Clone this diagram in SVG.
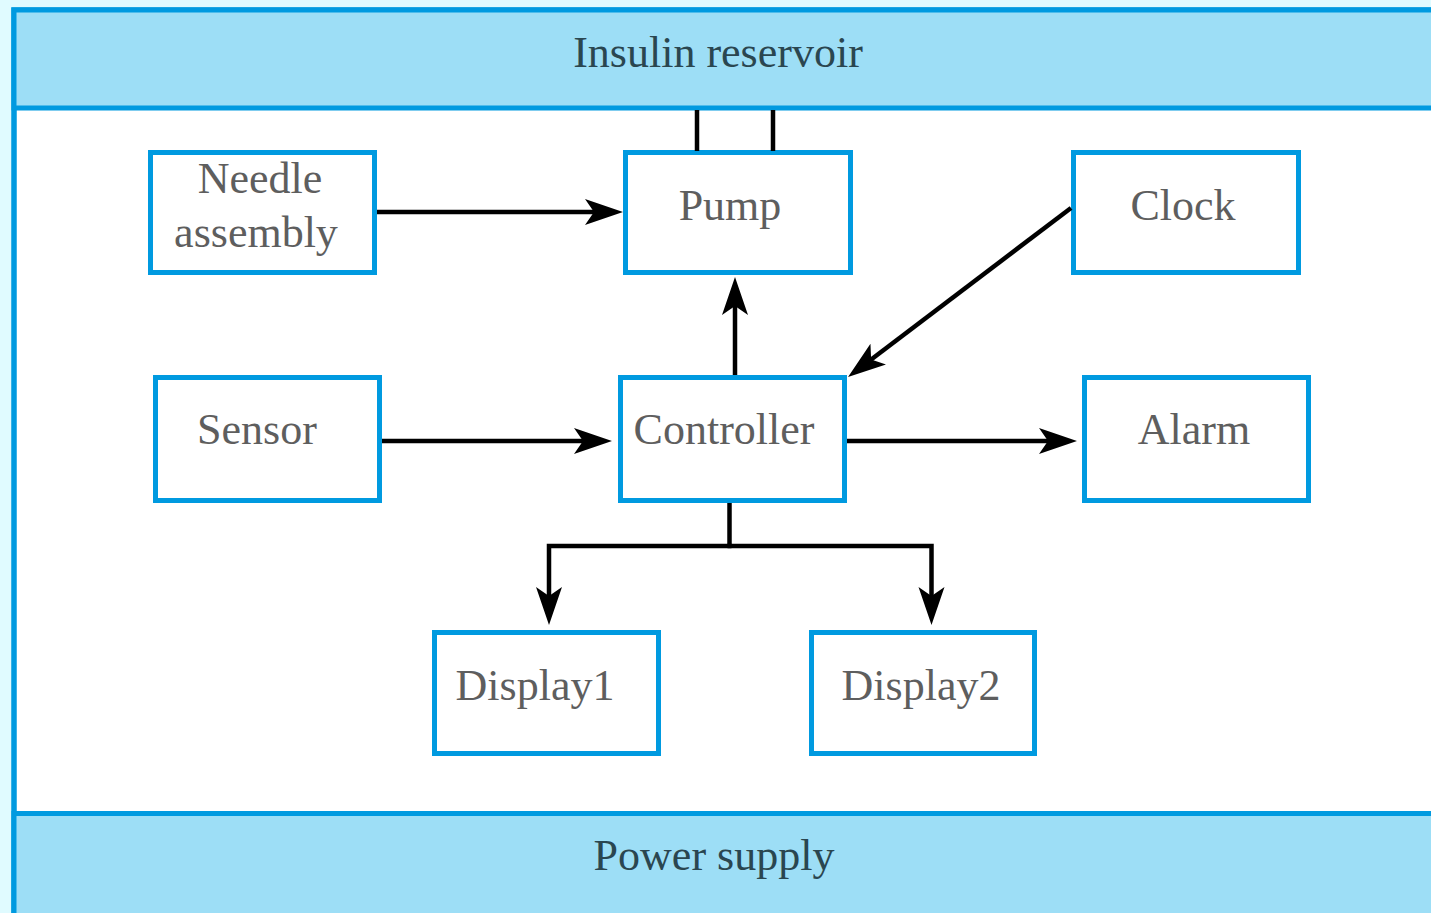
<svg xmlns="http://www.w3.org/2000/svg" width="1431" height="913" viewBox="0 0 1431 913">
  <style>
    .band { fill: #9ddef6; stroke: #009ae0; stroke-width: 5; }
    .box { fill: #ffffff; stroke: #009ae0; stroke-width: 5; }
    .lbl { font-family: "Liberation Serif", "Times New Roman", serif; font-size: 44px; fill: #5e5e5e; text-anchor: middle; }
    .blbl { font-family: "Liberation Serif", "Times New Roman", serif; font-size: 44px; fill: #2a4650; text-anchor: middle; }
    .conn { fill: none; stroke: #000000; stroke-width: 4.5; }
  </style>
  <defs>
    <marker id="arr" markerUnits="userSpaceOnUse" markerWidth="40" markerHeight="28" refX="28" refY="13" orient="auto" viewBox="0 0 40 28">
      <path d="M0,0 L38,13 L0,26 L9,13 Z" fill="#000000"/>
    </marker>
  </defs>

  <rect x="0" y="0" width="1431" height="913" fill="#e0fbff"/>
  <rect x="14" y="10" width="1440" height="920" fill="#ffffff" stroke="#009ae0" stroke-width="5.5"/>

  <g id="insulin-reservoir">
    <rect class="band" x="14" y="10" width="1440" height="98"/>
    <text class="blbl" x="718" y="67">Insulin reservoir</text>
  </g>
  <g id="power-supply">
    <rect class="band" x="14" y="813.5" width="1440" height="120"/>
    <text class="blbl" x="714" y="870">Power supply</text>
  </g>

  <g id="needle-assembly">
    <rect class="box" x="150.5" y="152.5" width="224" height="120"/>
    <text class="lbl" x="260" y="193">Needle</text>
    <text class="lbl" x="256" y="247">assembly</text>
  </g>
  <g id="pump">
    <rect class="box" x="625.5" y="152.5" width="225" height="120"/>
    <text class="lbl" x="730" y="220">Pump</text>
  </g>
  <g id="clock">
    <rect class="box" x="1073.5" y="152.5" width="225" height="120"/>
    <text class="lbl" x="1183" y="220">Clock</text>
  </g>
  <g id="sensor">
    <rect class="box" x="155.5" y="377.5" width="224" height="123"/>
    <text class="lbl" x="257" y="444">Sensor</text>
  </g>
  <g id="controller">
    <rect class="box" x="620.5" y="377.5" width="224" height="123"/>
    <text class="lbl" x="724" y="444">Controller</text>
  </g>
  <g id="alarm">
    <rect class="box" x="1084.5" y="377.5" width="224" height="123"/>
    <text class="lbl" x="1194" y="444">Alarm</text>
  </g>
  <g id="display1">
    <rect class="box" x="434.5" y="632.5" width="224" height="121"/>
    <text class="lbl" x="535" y="700">Display1</text>
  </g>
  <g id="display2">
    <rect class="box" x="811.5" y="632.5" width="223" height="121"/>
    <text class="lbl" x="921" y="700">Display2</text>
  </g>

  <g id="connectors">
    <line class="conn" x1="697" y1="110" x2="697" y2="151"/>
    <line class="conn" x1="773" y1="110" x2="773" y2="151"/>
    <line class="conn" x1="377" y1="212" x2="613" y2="212" marker-end="url(#arr)"/>
    <line class="conn" x1="382" y1="441" x2="602" y2="441" marker-end="url(#arr)"/>
    <line class="conn" x1="847" y1="441" x2="1067" y2="441" marker-end="url(#arr)"/>
    <line class="conn" x1="735" y1="375" x2="735" y2="287" marker-end="url(#arr)"/>
    <line class="conn" x1="1071" y1="208" x2="856" y2="371" marker-end="url(#arr)"/>
    <path class="conn" d="M729.5,503 V546"/>
    <path class="conn" d="M731.5,546 H549 V615" marker-end="url(#arr)"/>
    <path class="conn" d="M727.5,546 H931.5 V615" marker-end="url(#arr)"/>
  </g>
</svg>
